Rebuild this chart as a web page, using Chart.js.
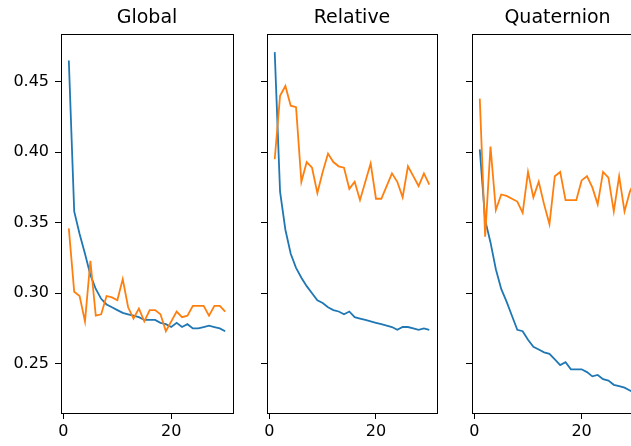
<!DOCTYPE html>
<html>
<head>
<meta charset="utf-8">
<script src="https://cdn.jsdelivr.net/npm/chart.js@4/dist/chart.umd.min.js"></script>
<style>
  html, body { margin: 0; padding: 0; background: #fff; }
  body { width: 631px; height: 446px; overflow: hidden; position: relative; }
  .panel { position: absolute; top: 0; left: 0; height: 446px; }
</style>
</head>
<body>
<div class="panel" style="width:631px"><canvas id="c1"></canvas></div>
<div class="panel" style="width:631px"><canvas id="c2"></canvas></div>
<div class="panel" style="width:700px"><canvas id="c3"></canvas></div>
<script>
const epochs = [1,2,3,4,5,6,7,8,9,10,11,12,13,14,15,16,17,18,19,20,21,22,23,24,25,26,27,28,29,30];
const panelTitles = ['Global', 'Relative', 'Quaternion'];
const yTicks = [0.25, 0.30, 0.35, 0.40, 0.45];
const xTicks = [0, 20];

const globalBlue = [0.465,0.358,0.342,0.328,0.313,0.303,0.296,0.292,0.290,0.288,0.286,0.285,0.284,0.283,0.281,0.281,0.281,0.279,0.278,0.276,0.279,0.276,0.278,0.275,0.275,0.276,0.277,0.276,0.275,0.273];
const globalOrange = [0.346,0.301,0.298,0.280,0.323,0.284,0.285,0.298,0.297,0.295,0.310,0.290,0.282,0.289,0.280,0.288,0.288,0.285,0.273,0.280,0.287,0.283,0.284,0.291,0.291,0.291,0.284,0.291,0.291,0.287];
const relativeBlue = [0.471,0.372,0.345,0.328,0.318,0.311,0.305,0.300,0.295,0.293,0.290,0.288,0.287,0.285,0.287,0.283,0.282,0.281,0.280,0.279,0.278,0.277,0.276,0.274,0.276,0.276,0.275,0.274,0.275,0.274];
const relativeOrange = [0.395,0.440,0.447,0.433,0.432,0.379,0.393,0.389,0.371,0.386,0.399,0.393,0.390,0.389,0.374,0.379,0.366,0.379,0.392,0.367,0.367,0.376,0.385,0.379,0.368,0.390,0.383,0.376,0.385,0.377];
const quatBlue = [0.402,0.352,0.336,0.317,0.303,0.294,0.284,0.274,0.273,0.267,0.262,0.260,0.258,0.257,0.253,0.249,0.251,0.246,0.246,0.246,0.244,0.241,0.242,0.239,0.238,0.235,0.234,0.233,0.231,0.229];
const quatOrange = [0.438,0.340,0.404,0.359,0.370,0.369,0.367,0.365,0.357,0.386,0.368,0.379,0.363,0.349,0.383,0.386,0.366,0.366,0.366,0.380,0.383,0.375,0.363,0.386,0.382,0.358,0.383,0.358,0.372,0.380];

const BLUE = '#1f77b4', ORANGE = '#ff7f0e';
const FONT = "'DejaVu Sans', sans-serif";

const framePlugin = {
  id: 'frame',
  afterDraw(chart) {
    const a = chart.chartArea, ctx = chart.ctx;
    ctx.save();
    ctx.strokeStyle = '#000';
    ctx.lineWidth = 1;
    ctx.strokeRect(Math.round(a.left) + 0.5, Math.round(a.top) + 0.5, Math.round(a.right - a.left), Math.round(a.bottom - a.top));
    ctx.restore();
  }
};

function makeChart(id, title, blue, orange, showYLabels, plotLeft, padRight) {
  const pts = arr => epochs.map((e, i) => ({x: e, y: arr[i]}));
  const yWidth = showYLabels ? plotLeft : 6;
  const padLeft = plotLeft - yWidth;
  return new Chart(document.getElementById(id), {
    type: 'line',
    data: {
      datasets: [
        {data: pts(orange), borderColor: ORANGE, borderWidth: 1.8, pointRadius: 0, tension: 0, fill: false},
        {data: pts(blue), borderColor: BLUE, borderWidth: 1.8, pointRadius: 0, tension: 0, fill: false}
      ]
    },
    options: {
      responsive: true,
      maintainAspectRatio: false,
      animation: false,
      events: [],
      layout: {padding: {left: padLeft, right: padRight, top: 0, bottom: 0}},
      plugins: {
        legend: {display: false},
        tooltip: {enabled: false},
        title: {
          display: true, text: title, fullSize: false, color: '#000',
          font: {family: FONT, size: 19, weight: 'normal'},
          padding: {top: 7, bottom: 4}
        }
      },
      scales: {
        x: {
          type: 'linear', min: -0.45, max: 31.45,
          afterBuildTicks: s => { s.ticks = xTicks.map(v => ({value: v})); },
          afterFit: s => { s.height = 33; },
          grid: {display: true, drawOnChartArea: false, drawTicks: true, tickLength: 6, color: '#000'},
          border: {display: false},
          ticks: {color: '#000', font: {family: FONT, size: 16}, padding: 3, maxRotation: 0}
        },
        y: {
          type: 'linear', min: 0.215, max: 0.484,
          afterBuildTicks: s => { s.ticks = yTicks.map(v => ({value: v})); },
          afterFit: s => { s.width = yWidth; },
          grid: {display: true, drawOnChartArea: false, drawTicks: true, tickLength: 6, color: '#000'},
          border: {display: false},
          ticks: {
            display: showYLabels, color: '#000',
            font: {family: FONT, size: 16}, padding: 6,
            callback: v => v.toFixed(2)
          }
        }
      }
    },
    plugins: [framePlugin]
  });
}

makeChart('c1', panelTitles[0], globalBlue, globalOrange, true, 61, 631 - 233);
makeChart('c2', panelTitles[1], relativeBlue, relativeOrange, false, 267, 631 - 437);
makeChart('c3', panelTitles[2], quatBlue, quatOrange, false, 472, 700 - 643);
</script>
</body>
</html>
